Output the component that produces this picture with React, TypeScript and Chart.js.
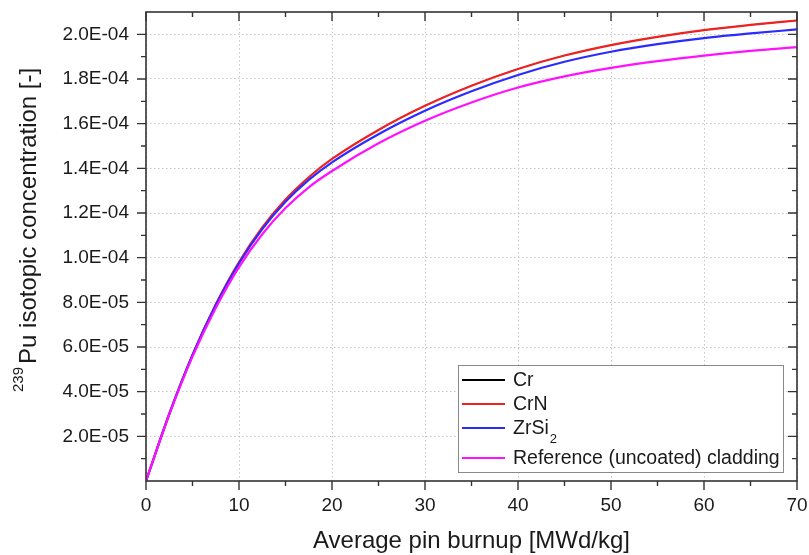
import React, { useEffect, useRef } from 'react';
import { Chart, registerables } from 'chart.js';

Chart.register(...registerables);

// ---- data ----
const burnup = [0, 2.5, 5, 7.5, 10, 12.5, 15, 17.5, 20, 25, 30, 35, 40, 45, 50, 55, 60, 65, 70];
const crValues = [0, 3.0e-5, 5.65e-5, 7.9e-5, 9.8e-5, 11.35e-5, 12.6e-5, 13.6e-5, 14.42e-5, 15.72e-5, 16.8e-5, 17.7e-5, 18.45e-5, 19.05e-5, 19.52e-5, 19.89e-5, 20.19e-5, 20.42e-5, 20.62e-5];
const crnValues = [0, 3.0e-5, 5.65e-5, 7.9e-5, 9.8e-5, 11.35e-5, 12.6e-5, 13.6e-5, 14.42e-5, 15.72e-5, 16.8e-5, 17.7e-5, 18.45e-5, 19.05e-5, 19.52e-5, 19.89e-5, 20.19e-5, 20.42e-5, 20.62e-5];
const zrsi2Values = [0, 3.0e-5, 5.64e-5, 7.88e-5, 9.75e-5, 11.28e-5, 12.5e-5, 13.48e-5, 14.27e-5, 15.53e-5, 16.58e-5, 17.45e-5, 18.18e-5, 18.77e-5, 19.22e-5, 19.56e-5, 19.83e-5, 20.04e-5, 20.22e-5];
const referenceValues = [0, 2.97e-5, 5.57e-5, 7.75e-5, 9.58e-5, 11.05e-5, 12.22e-5, 13.15e-5, 13.88e-5, 15.12e-5, 16.13e-5, 16.95e-5, 17.62e-5, 18.12e-5, 18.5e-5, 18.8e-5, 19.05e-5, 19.26e-5, 19.43e-5];

const seriesLabels = ['Cr', 'CrN', 'ZrSi\u2082', 'Reference (uncoated) cladding'];
const seriesColors = ['#000000', '#ee2222', '#2b2bff', '#ff10ff'];

const xTickValues = [0, 10, 20, 30, 40, 50, 60, 70];
const xMinorTickValues = [5, 15, 25, 35, 45, 55, 65];
const yTickValues = [2e-5, 4e-5, 6e-5, 8e-5, 10e-5, 12e-5, 14e-5, 16e-5, 18e-5, 20e-5];
const yMinorTickValues = [1e-5, 3e-5, 5e-5, 7e-5, 9e-5, 11e-5, 13e-5, 15e-5, 17e-5, 19e-5];
const xMin = 0, xMax = 70, yMin = 0, yMax = 21e-5;

const xAxisTitle = 'Average pin burnup [MWd/kg]';
const yAxisSup = '239';
const yAxisTitle = 'Pu isotopic concentration [-]';

const FONT = '"Liberation Sans", Arial, Helvetica, sans-serif';
const TEXT = '#1a1a1a';
const FRAME = '#333333';

const fmtSci = (v: number) =>
  v.toExponential(1).toUpperCase().replace(/E([+-])(\d)$/, 'E$10$2');

const subDigits = '\u2080\u2081\u2082\u2083\u2084\u2085\u2086\u2087\u2088\u2089';

const zeroPad = (s: any) => {
  s.paddingTop = 0;
  s.paddingBottom = 0;
  s.paddingLeft = 0;
  s.paddingRight = 0;
};

const decorPlugin = {
  id: 'decor',
  afterDraw(chart: any) {
    const { ctx, chartArea: a, scales } = chart;
    const xs = scales.x, ys = scales.y;
    ctx.save();
    // frame
    ctx.strokeStyle = FRAME;
    ctx.lineWidth = 1.6;
    ctx.strokeRect(a.left, a.top, a.right - a.left, a.bottom - a.top);
    // ticks
    ctx.lineWidth = 1.4;
    ctx.beginPath();
    const major = 9, minor = 5;
    xTickValues.forEach((v) => {
      const p = xs.getPixelForValue(v);
      ctx.moveTo(p, a.bottom); ctx.lineTo(p, a.bottom + major);
      ctx.moveTo(p, a.top); ctx.lineTo(p, a.top + major);
    });
    xMinorTickValues.forEach((v) => {
      const p = xs.getPixelForValue(v);
      ctx.moveTo(p, a.bottom); ctx.lineTo(p, a.bottom + minor);
      ctx.moveTo(p, a.top); ctx.lineTo(p, a.top + minor);
    });
    yTickValues.forEach((v) => {
      const p = ys.getPixelForValue(v);
      ctx.moveTo(a.left, p); ctx.lineTo(a.left - major, p);
      ctx.moveTo(a.right, p); ctx.lineTo(a.right - major, p);
    });
    yMinorTickValues.forEach((v) => {
      const p = ys.getPixelForValue(v);
      ctx.moveTo(a.left, p); ctx.lineTo(a.left - minor, p);
      ctx.moveTo(a.right, p); ctx.lineTo(a.right - minor, p);
    });
    ctx.stroke();

    // x axis title
    ctx.fillStyle = TEXT;
    ctx.font = `24px ${FONT}`;
    ctx.textAlign = 'center';
    ctx.textBaseline = 'alphabetic';
    ctx.fillText(xAxisTitle, (a.left + a.right) / 2, 548);

    // y axis title (rotated, with superscript)
    ctx.save();
    ctx.translate(36, 392);
    ctx.rotate(-Math.PI / 2);
    ctx.textAlign = 'left';
    ctx.font = `15px ${FONT}`;
    ctx.fillText(yAxisSup, 0, -13);
    const supW = ctx.measureText(yAxisSup).width;
    ctx.font = `24px ${FONT}`;
    ctx.fillText(yAxisTitle, supW + 3, 0);
    ctx.restore();

    // legend
    const bx = a.left + 312, by = a.bottom - 116, bw = 325, bh = 107;
    ctx.fillStyle = '#ffffff';
    ctx.fillRect(bx, by, bw, bh);
    ctx.strokeStyle = '#8a8a8a';
    ctx.lineWidth = 1;
    ctx.strokeRect(bx + 0.5, by + 0.5, bw, bh);
    const rows = [15, 39, 63, 93];
    chart.data.datasets.forEach((ds: any, i: number) => {
      const ry = by + rows[i];
      ctx.strokeStyle = ds.borderColor;
      ctx.lineWidth = 2;
      ctx.beginPath();
      ctx.moveTo(bx + 4, ry);
      ctx.lineTo(bx + 47, ry);
      ctx.stroke();
      let tx = bx + 55;
      ctx.fillStyle = TEXT;
      ctx.textAlign = 'left';
      for (const ch of String(ds.label)) {
        const si = subDigits.indexOf(ch);
        if (si >= 0) {
          ctx.font = `13px ${FONT}`;
          ctx.textBaseline = 'alphabetic';
          ctx.fillText(String(si), tx + 1, ry + 15);
          tx += ctx.measureText(String(si)).width + 1;
        } else {
          ctx.font = `19.5px ${FONT}`;
          ctx.textBaseline = 'middle';
          ctx.fillText(ch, tx, ry + 1);
          tx += ctx.measureText(ch).width;
        }
      }
    });
    ctx.restore();
  },
};

export default function App() {
  const ref = useRef<HTMLCanvasElement | null>(null);
  useEffect(() => {
    if (!ref.current) return;
    const series = [crValues, crnValues, zrsi2Values, referenceValues];
    const chart = new Chart(ref.current, {
      type: 'line',
      data: {
        datasets: series.map((vals, i) => ({
          label: seriesLabels[i],
          data: burnup.map((x, j) => ({ x, y: vals[j] })),
          borderColor: seriesColors[i],
          backgroundColor: seriesColors[i],
          borderWidth: i === 0 ? 1 : 2.2,
          pointRadius: 0,
          cubicInterpolationMode: 'monotone' as const,
          fill: false,
          order: 4 - i,
        })),
      },
      options: {
        animation: false,
        responsive: true,
        maintainAspectRatio: false,
        layout: { padding: { top: 12, right: 12, left: 0, bottom: 0 } },
        plugins: { legend: { display: false }, tooltip: { enabled: false } },
        scales: {
          x: {
            type: 'linear',
            min: xMin,
            max: xMax,
            afterBuildTicks: (s: any) => { s.ticks = xTickValues.map((v) => ({ value: v })); },
            afterFit: (s: any) => { s.height = 74; zeroPad(s); },
            grid: { color: '#c6c6c6', lineWidth: 1, drawTicks: false },
            border: { display: false, dash: [1.5, 2.5] },
            ticks: {
              padding: 13,
              color: TEXT,
              font: { family: FONT, size: 19 },
              autoSkip: false,
              maxRotation: 0,
              callback: (v: any) => String(v),
            },
          },
          y: {
            type: 'linear',
            min: yMin,
            max: yMax,
            afterBuildTicks: (s: any) => { s.ticks = yTickValues.map((v) => ({ value: v })); },
            afterFit: (s: any) => { s.width = 146; zeroPad(s); },
            grid: { color: '#c6c6c6', lineWidth: 1, drawTicks: false },
            border: { display: false, dash: [1.5, 2.5] },
            ticks: {
              padding: 17,
              color: TEXT,
              font: { family: FONT, size: 19 },
              autoSkip: false,
              callback: (v: any) => fmtSci(Number(v)),
            },
          },
        },
      },
      plugins: [decorPlugin],
    });
    return () => chart.destroy();
  }, []);
  return (
    <div style={{ position: 'fixed', left: 0, top: 0, width: 809, height: 555, background: '#ffffff' }}>
      <canvas ref={ref} />
    </div>
  );
}
